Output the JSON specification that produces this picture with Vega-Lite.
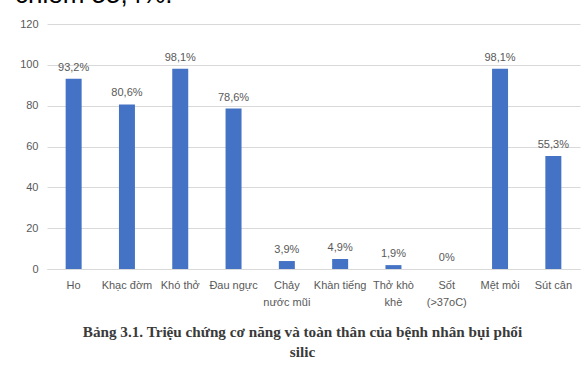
{
  "$schema": "https://vega.github.io/schema/vega-lite/v6.json",
  "width": 533,
  "height": 245,
  "autosize": "none",
  "padding": {"left": 47, "top": 24, "right": 7, "bottom": 102},
  "background": "white",
  "title": {
    "text": "chiếm 55,4%.",
    "anchor": "start",
    "frame": "group",
    "font": "Liberation Sans",
    "fontSize": 26,
    "fontWeight": "normal",
    "color": "#000000",
    "baseline": "alphabetic",
    "dx": -32,
    "dy": 11,
    "offset": 0
  },
  "data": {
    "values": [
      {"symptom": "Ho", "value": 93.2, "label": "93,2%"},
      {"symptom": "Khạc đờm", "value": 80.6, "label": "80,6%"},
      {"symptom": "Khó thở", "value": 98.1, "label": "98,1%"},
      {"symptom": "Đau ngực", "value": 78.6, "label": "78,6%"},
      {"symptom": "Chảy|nước mũi", "value": 3.9, "label": "3,9%"},
      {"symptom": "Khàn tiếng", "value": 4.9, "label": "4,9%"},
      {"symptom": "Thở khò|khè", "value": 1.9, "label": "1,9%"},
      {"symptom": "Sốt|(>37oC)", "value": 0, "label": "0%"},
      {"symptom": "Mệt mỏi", "value": 98.1, "label": "98,1%"},
      {"symptom": "Sút cân", "value": 55.3, "label": "55,3%"}
    ]
  },
  "encoding": {
    "x": {
      "field": "symptom",
      "type": "nominal",
      "sort": null,
      "scale": {"paddingInner": 0.7, "paddingOuter": 0.35},
      "axis": {
        "labelAngle": 0,
        "labelExpr": "split(datum.label, '|')",
        "labelFont": "Liberation Sans",
        "labelFontSize": 11,
        "labelColor": "#595959",
        "labelPadding": 10,
        "labelLineHeight": 17,
        "labelBaseline": "top",
        "ticks": false,
        "domain": true,
        "domainColor": "#d9d9d9",
        "title": ["Bảng 3.1. Triệu chứng cơ năng và toàn thân của bệnh nhân bụi phổi", "silic"],
        "titleFont": "Liberation Serif",
        "titleFontSize": 15.2,
        "titleFontWeight": "bold",
        "titleColor": "#3a3a3a",
        "titleLineHeight": 20,
        "titlePadding": 17,
        "titleX": 255
      }
    },
    "y": {
      "field": "value",
      "type": "quantitative",
      "scale": {"domain": [0, 120]},
      "axis": {
        "values": [0, 20, 40, 60, 80, 100, 120],
        "labelFont": "Liberation Sans",
        "labelFontSize": 11,
        "labelColor": "#595959",
        "labelPadding": 9,
        "ticks": false,
        "domain": false,
        "grid": true,
        "gridColor": "#d9d9d9",
        "title": null
      }
    }
  },
  "layer": [
    {"mark": {"type": "bar", "color": "#4472C4"}},
    {
      "mark": {
        "type": "text",
        "baseline": "bottom",
        "dy": -6,
        "font": "Liberation Sans",
        "fontSize": 11,
        "color": "#595959"
      },
      "encoding": {"text": {"field": "label"}}
    }
  ],
  "config": {"view": {"stroke": null}}
}
